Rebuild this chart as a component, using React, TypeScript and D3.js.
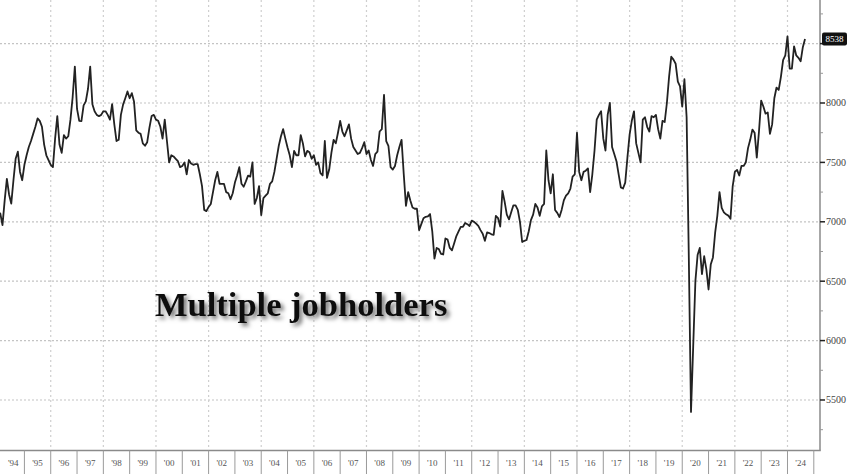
import React from "react";
import * as d3 from "d3";

// Multiple jobholders (thousands), monthly from Jan 1994
const v1994_1997 = [
  7050, 7070, 6972, 7180, 7361, 7230, 7153, 7350, 7530, 7590, 7420, 7350,
  7480, 7560, 7630, 7680, 7740, 7800, 7870, 7850, 7800, 7650, 7560, 7520,
  7480, 7460, 7700, 7889, 7650, 7580, 7730, 7700, 7720, 7860, 8050, 8306,
  7950, 7850, 7847, 7980, 8014, 8120, 8306, 7990, 7930, 7900, 7889, 7900,
];
const v1998_2001 = [
  7930, 7930, 7900, 7860, 7990, 7820, 7680, 7690, 7900, 7986, 8040, 8097,
  8040, 8083, 8010, 7770, 7750, 7740, 7660, 7640, 7670, 7790, 7890, 7900,
  7860, 7850, 7800, 7700, 7860, 7680, 7500, 7560, 7550, 7530, 7510, 7460,
  7470, 7500, 7400, 7520, 7490, 7480, 7486, 7486, 7400, 7300, 7100, 7090,
];
const v2002_2005 = [
  7125, 7150, 7250, 7350, 7420, 7320, 7320, 7320, 7250, 7240, 7190, 7240,
  7330, 7389, 7460, 7320, 7295, 7340, 7389, 7380, 7500, 7150, 7200, 7300,
  7056, 7200, 7220, 7240, 7320, 7340, 7420, 7530, 7640, 7720, 7780, 7700,
  7625, 7560, 7460, 7597, 7560, 7560, 7730, 7660, 7550, 7597, 7585, 7530,
];
const v2006_2009 = [
  7560, 7480, 7500, 7410, 7390, 7680, 7370, 7440, 7580, 7690, 7660, 7750,
  7850, 7760, 7720, 7770, 7820, 7700, 7630, 7600, 7570, 7580, 7620, 7670,
  7570, 7600, 7520, 7470, 7570, 7590, 7760, 7780, 8069, 7680, 7640, 7460,
  7440, 7470, 7560, 7630, 7690, 7400, 7135, 7250, 7180, 7120, 7110, 7110,
];
const v2010_2013 = [
  6930, 6980, 7030, 7042, 7045, 7065, 6920, 6690, 6780, 6770, 6730, 6725,
  6860, 6850, 6780, 6760, 6819, 6880, 6920, 6958, 6958, 6990, 6980, 6965,
  7010, 7000, 6985, 6965, 6930, 6900, 6840, 6910, 6905, 6895, 6890, 7050,
  7030, 6960, 7260, 7170, 7060, 7020, 7080, 7139, 7139, 7100, 7000, 6830,
];
const v2014_2017 = [
  6840, 6847, 6920, 7014, 7060, 7150, 7120, 7050, 7130, 7150, 7600, 7350,
  7240, 7400, 7100, 7075, 7040, 7100, 7180, 7220, 7240, 7280, 7380, 7400,
  7750, 7420, 7350, 7420, 7430, 7450, 7250, 7400, 7600, 7860, 7900, 7930,
  7700, 7600, 7900, 8000, 7630, 7570, 7510, 7400, 7290, 7280, 7330, 7540,
];
const v2018_2021 = [
  7734, 7850, 7930, 7660, 7580, 7500, 7860, 7880, 7800, 7760, 7890, 7880,
  7900, 7780, 7700, 7850, 7840, 8000, 8220, 8390, 8365, 8330, 8180, 8140,
  7970, 8200, 7880, 6700, 5400, 5950, 6500, 6720, 6780, 6560, 6710, 6600,
  6430, 6640, 6700, 6906, 7050, 7250, 7117, 7080, 7063, 7052, 7025, 7299,
];
const v2022_2024 = [
  7420, 7437, 7390, 7470, 7470, 7500, 7620, 7690, 7776, 7750, 7540, 7760,
  8020, 7970, 7910, 7920, 7740, 7820, 8040, 8130, 8110, 8220, 8360, 8400,
  8561, 8290, 8290, 8477, 8400, 8380, 8351, 8470, 8538,
];

const values = [
  ...v1994_1997, ...v1998_2001, ...v2002_2005, ...v2006_2009,
  ...v2010_2013, ...v2014_2017, ...v2018_2021, ...v2022_2024,
];

const yearLabels = [
  "'94", "'95", "'96", "'97", "'98", "'99", "'00", "'01", "'02", "'03", "'04",
  "'05", "'06", "'07", "'08", "'09", "'10", "'11", "'12", "'13", "'14", "'15",
  "'16", "'17", "'18", "'19", "'20", "'21", "'22", "'23", "'24",
];
const majorTicks = [5500, 6000, 6500, 7000, 7500, 8000, 8500];
const minorTicks = [5250, 5750, 6250, 6750, 7250, 7750, 8250, 8750];
const title = "Multiple jobholders";

const W = 848;
const H = 474;
const axisX = 820;
const axisY = 450.5;

export default function App() {
  const x = d3.scaleLinear().domain([1994, 2025]).range([-1.9, 813.8]);
  const y = d3.scaleLinear().domain([5079, 8867]).range([450, 0]);
  const line = d3
    .line<number>()
    .x((_, i) => x(1994 + i / 12))
    .y((d) => y(d));
  const last = values[values.length - 1];
  const years = d3.range(1995, 2026);
  const gridYears = d3.range(1996, 2025, 2);

  return (
    <svg
      width={W}
      height={H}
      style={{ position: "absolute", left: 0, top: 0, display: "block", background: "#fff" }}
    >
      <defs>
        <filter id="shadow" x="-10%" y="-30%" width="130%" height="170%">
          <feDropShadow dx="3" dy="3" stdDeviation="2" floodColor="#000" floodOpacity="0.55" />
        </filter>
      </defs>
      <rect x={0} y={0} width={W} height={H} fill="#fff" />
      {/* grid */}
      {majorTicks.map((t) => (
        <line key={"h" + t} x1={0} x2={axisX} y1={y(t)} y2={y(t)} stroke="#c4c4c4" strokeWidth={1.2} strokeDasharray="2,2" />
      ))}
      {gridYears.map((yr) => (
        <line key={"v" + yr} x1={x(yr)} x2={x(yr)} y1={0} y2={axisY} stroke="#cfcfcf" strokeWidth={1.2} strokeDasharray="2,3" />
      ))}
      {/* title */}
      <text
        x={155}
        y={316}
        fontFamily="'Liberation Serif', 'DejaVu Serif', serif"
        fontWeight="bold"
        fontSize={34.5}
        fill="#111"
        filter="url(#shadow)"
      >
        {title}
      </text>
      {/* series */}
      <path d={line(values) || ""} fill="none" stroke="#222" strokeWidth={1.8} strokeLinejoin="round" />
      {/* axes */}
      <line x1={axisX} x2={axisX} y1={0} y2={axisY} stroke="#8a8a8a" strokeWidth={1.5} />
      <line x1={0} x2={axisX + 0.75} y1={axisY} y2={axisY} stroke="#8a8a8a" strokeWidth={1.5} />
      {majorTicks.map((t) => (
        <line key={"mt" + t} x1={axisX} x2={axisX + 5} y1={y(t)} y2={y(t)} stroke="#222" strokeWidth={1.5} />
      ))}
      {minorTicks.map((t) => (
        <line key={"nt" + t} x1={axisX} x2={axisX + 3} y1={y(t)} y2={y(t)} stroke="#999" strokeWidth={1} />
      ))}
      {majorTicks.filter((t) => t !== 8500).map((t) => (
        <text
          key={"lb" + t}
          x={axisX + 6}
          y={y(t)}
          dy="0.35em"
          fontFamily="'Liberation Serif', serif"
          fontSize={10}
          fill="#444"
        >
          {t}
        </text>
      ))}
      {/* last value label */}
      <rect x={axisX + 2} y={y(last) - 6.5} width={25} height={13} rx={2} fill="#111" />
      <text
        x={axisX + 14.5}
        y={y(last)}
        dy="0.35em"
        textAnchor="middle"
        fontFamily="'Liberation Serif', serif"
        fontSize={9}
        fill="#fff"
      >
        {last}
      </text>
      {/* year separators and labels */}
      {years.map((yr) => (
        <line key={"s" + yr} x1={x(yr)} x2={x(yr)} y1={axisY} y2={H} stroke="#9a9a9a" strokeWidth={1} />
      ))}
      {yearLabels.map((lab, i) => (
        <text
          key={"yl" + lab}
          x={(Math.max(2, x(1994 + i)) + x(1995 + i)) / 2}
          y={466}
          textAnchor="middle"
          fontFamily="'Liberation Serif', serif"
          fontSize={9}
          fill="#555"
        >
          {lab}
        </text>
      ))}
    </svg>
  );
}
